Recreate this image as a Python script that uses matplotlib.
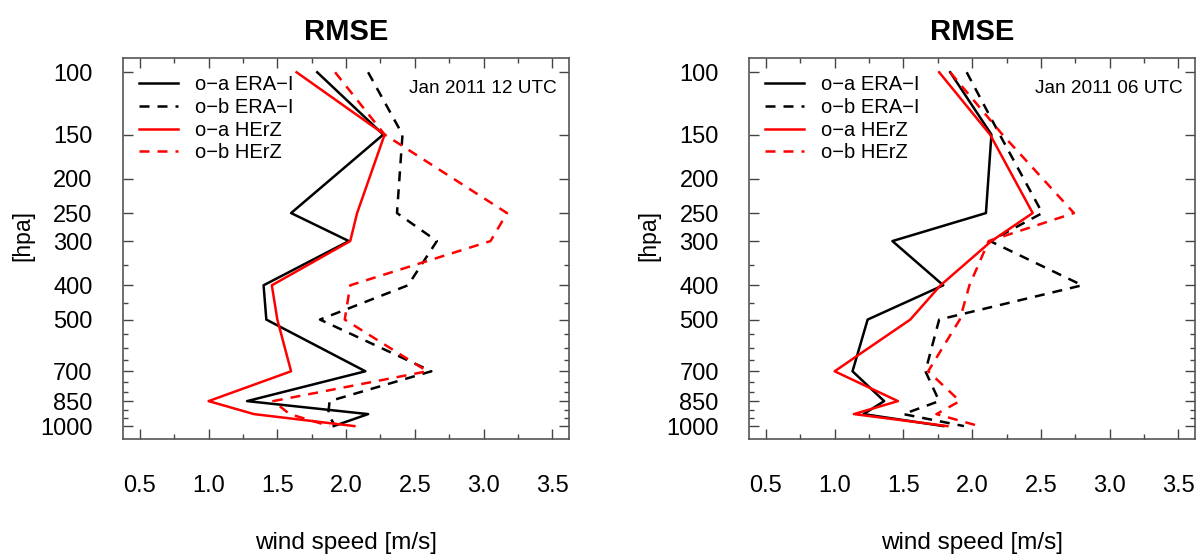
import matplotlib
matplotlib.use("Agg")
import matplotlib.pyplot as plt
from matplotlib.ticker import FixedLocator, NullFormatter

plt.rcParams['font.family'] = ['Liberation Sans', 'DejaVu Sans']

# pressure levels [hPa]
levels = [100, 150, 250, 300, 400, 500, 700, 850, 925, 1000]

# Jan 2011 12 UTC
oa_era_12 = [1.79, 2.27, 1.60, 2.02, 1.40, 1.42, 2.14, 1.28, 2.16, 1.91]
ob_era_12 = [2.16, 2.41, 2.37, 2.66, 2.45, 1.81, 2.62, 1.88, 1.87, 1.92]
oa_herz_12 = [1.64, 2.28, 2.08, 2.03, 1.46, 1.50, 1.60, 1.00, 1.33, 2.06]
ob_herz_12 = [1.92, 2.28, 3.17, 3.05, 2.03, 1.99, 2.59, 1.47, 1.59, 1.88]

# Jan 2011 06 UTC
oa_era_06 = [1.84, 2.14, 2.10, 1.42, 1.79, 1.24, 1.13, 1.36, 1.21, 1.79]
ob_era_06 = [1.96, 2.20, 2.51, 2.13, 2.80, 1.76, 1.66, 1.76, 1.50, 1.94]
oa_herz_06 = [1.76, 2.13, 2.44, 2.14, 1.77, 1.55, 1.00, 1.46, 1.14, 1.82]
ob_herz_06 = [1.84, 2.22, 2.74, 2.12, 1.98, 1.91, 1.68, 1.91, 1.74, 2.05]

ytick_vals = [100, 150, 200, 250, 300, 400, 500, 700, 850, 1000]
yminor_vals = [350, 450, 550, 600, 650, 750, 800, 900, 950]
xtick_vals = [0.5, 1.0, 1.5, 2.0, 2.5, 3.0, 3.5]
xminor_vals = [0.75, 1.25, 1.75, 2.25, 2.75, 3.25]

labels = ['o\u2212a ERA\u2212I', 'o\u2212b ERA\u2212I', 'o\u2212a HErZ', 'o\u2212b HErZ']
dash = (0, (4, 3.2))

fig = plt.figure(figsize=(11.98, 5.54), dpi=100)
ax1 = fig.add_axes([0.1029, 0.207, 0.372, 0.6878])
ax2 = fig.add_axes([0.6255, 0.207, 0.372, 0.6878])

panels = [
    (ax1, oa_era_12, ob_era_12, oa_herz_12, ob_herz_12, 'Jan 2011 12 UTC'),
    (ax2, oa_era_06, ob_era_06, oa_herz_06, ob_herz_06, 'Jan 2011 06 UTC'),
]

for ax, oa_e, ob_e, oa_h, ob_h, note in panels:
    ax.plot(oa_e, levels, color='black', lw=1.8, label=labels[0])
    ax.plot(ob_e, levels, color='black', lw=1.8, ls=dash, label=labels[1])
    ax.plot(oa_h, levels, color='red', lw=1.8, label=labels[2])
    ax.plot(ob_h, levels, color='red', lw=1.8, ls=dash, label=labels[3])

    ax.set_yscale('log')
    ax.set_ylim(1090, 91.3)
    ax.set_xlim(0.38, 3.62)
    ax.yaxis.set_major_locator(FixedLocator(ytick_vals))
    ax.yaxis.set_minor_locator(FixedLocator(yminor_vals))
    ax.yaxis.set_minor_formatter(NullFormatter())
    ax.set_yticklabels([str(v) for v in ytick_vals])
    ax.set_xticks(xtick_vals)
    ax.set_xticklabels(['%.1f' % v for v in xtick_vals])
    ax.set_xticks(xminor_vals, minor=True)

    ax.tick_params(which='both', direction='in', top=True, right=True,
                   color='#444444', width=1.0, labelsize=17, labelcolor='black')
    ax.tick_params(which='major', length=7)
    ax.tick_params(which='minor', length=3.5)
    ax.tick_params(axis='x', which='major', pad=26)
    ax.tick_params(axis='y', which='major', pad=22)
    for sp in ax.spines.values():
        sp.set_color('#555555')
        sp.set_linewidth(1.2)

    ax.set_title('RMSE', fontsize=21, fontweight='bold', pad=13)
    ax.set_xlabel('wind speed [m/s]', fontsize=17.5, labelpad=25)
    ax.set_ylabel('[hpa]', fontsize=16.5)
    ax.yaxis.set_label_coords(-0.20, 0.536)

    ax.legend(loc='upper left', bbox_to_anchor=(0.036, 0.955), frameon=False,
              fontsize=14.5, handlelength=1.9, handletextpad=0.85,
              labelspacing=0.18, borderpad=0, borderaxespad=0)
    ax.text(0.973, 0.92, note, transform=ax.transAxes, ha='right',
            va='center', fontsize=13.7)

fig.savefig('out.png', dpi=100)
